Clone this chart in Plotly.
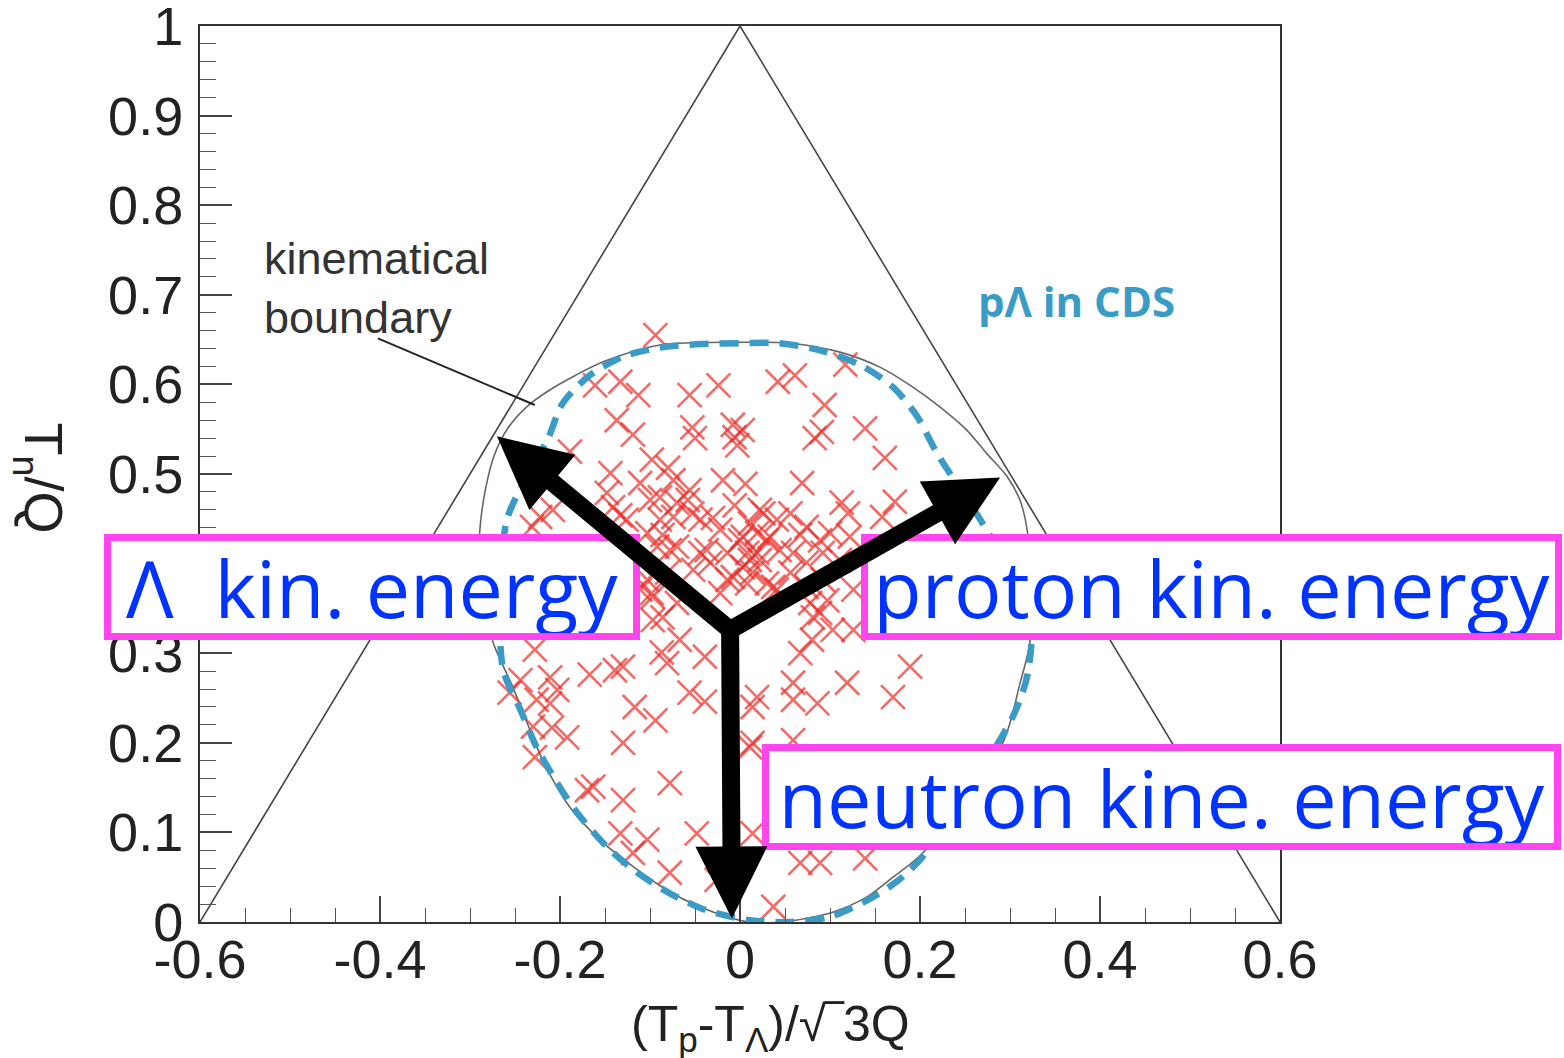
import plotly.graph_objects as go

# ---------------- data ----------------
tri_x = [-0.6, 0.0, 0.6]
tri_y = [0.0, 1.0, 0.0]

# kinematical boundary (thin grey curve)
boundary_x = [0.003, 0.056, 0.111, 0.156, 0.192, 0.222, 0.252, 0.274, 0.297, 0.311, 0.319, 0.324,
              0.322, 0.311, 0.292, 0.203, 0.170, 0.141, 0.103, 0.048, 0.011,
              -0.008, -0.045, -0.082, -0.119, -0.156, -0.189, -0.219, -0.236, -0.254, -0.274,
              -0.290, -0.289, -0.283, -0.273, -0.258, -0.237, -0.211, -0.183, -0.150, -0.089, 0.003]
boundary_y = [0.647, 0.646, 0.636, 0.619, 0.597, 0.575, 0.549, 0.523, 0.497, 0.471, 0.438, 0.371,
              0.311, 0.266, 0.200, 0.077, 0.050, 0.028, 0.011, 0.000, 0.000,
              0.004, 0.017, 0.036, 0.062, 0.092, 0.128, 0.180, 0.221, 0.266, 0.311,
              0.393, 0.438, 0.482, 0.521, 0.551, 0.575, 0.594, 0.610, 0.626, 0.644, 0.647]

# p-Lambda in CDS acceptance (blue dashed curve)
cds_x = [0.000, 0.044, 0.089, 0.133, 0.170, 0.197, 0.219, 0.267, 0.322, 0.320, 0.303,
         0.203, 0.174, 0.137, 0.100, 0.056, 0.011, -0.037, -0.078, -0.114, -0.148, -0.181,
         -0.203, -0.226, -0.244, -0.263, -0.267, -0.259, -0.237, -0.214, -0.197, -0.167,
         -0.130, -0.089, -0.044, 0.000]
cds_y = [0.646, 0.646, 0.638, 0.622, 0.597, 0.564, 0.523, 0.449, 0.348, 0.279, 0.229,
         0.073, 0.045, 0.022, 0.006, 0.000, 0.002, 0.013, 0.032, 0.055, 0.084, 0.122,
         0.155, 0.195, 0.237, 0.281, 0.359, 0.449, 0.497, 0.538, 0.579, 0.610,
         0.631, 0.641, 0.645, 0.646]

# events (red crosses)
events_x = [-0.094, -0.161, -0.133, -0.113, -0.056, -0.024, -0.137, -0.119, -0.053, -0.050,
            -0.008, -0.006, -0.003, -0.189, -0.144, -0.111, -0.098, -0.080, -0.074, -0.056,
            -0.019, 0.006, -0.148, -0.089, -0.070, -0.058, -0.089, -0.074, -0.053, -0.208,
            -0.222, -0.231, -0.141, -0.126, -0.103, -0.092, -0.078, -0.037, -0.014, 0.003,
            0.011, -0.052, -0.081, -0.103, -0.097, -0.070, -0.022, -0.014, 0.042, 0.061,
            0.117, 0.094, 0.091, 0.083, 0.139, 0.161, 0.069, 0.113, 0.120, 0.172,
            0.158, 0.003, 0.026, 0.041, 0.056, 0.011, 0.019, 0.033, 0.044, 0.059,
            0.074, 0.089, 0.092, 0.100, 0.122, 0.074, 0.111, 0.092, 0.008, 0.022,
            0.056, 0.074, 0.097, 0.037, -0.030, 0.022, -0.133, -0.086, -0.070, -0.044,
            0.000, 0.019, -0.033, 0.003, -0.098, -0.086, -0.097, -0.067, -0.087, -0.081,
            -0.039, -0.130, -0.056, -0.039, -0.117, -0.094, -0.008, 0.008, 0.014, 0.030,
            0.041, 0.078, 0.126, 0.081, 0.103, 0.126, 0.080, 0.067, 0.059, 0.119,
            0.019, 0.014, 0.059, 0.086, 0.170, -0.111, -0.228, -0.244, -0.211, -0.203,
            -0.226, -0.211, -0.256, -0.167, -0.139, -0.230, -0.209, -0.192, -0.228, -0.130,
            -0.170, -0.163, -0.130, -0.078, -0.133, -0.119, -0.103, -0.048, -0.078, -0.026,
            0.014, 0.011, 0.089, 0.189, 0.014, 0.059, 0.067, 0.089, 0.139, 0.037,
            0.030, 0.067, -0.006, -0.044, -0.022, -0.100]
events_y = [0.655, 0.599, 0.603, 0.588, 0.588, 0.599, 0.560, 0.544, 0.552, 0.540,
            0.555, 0.541, 0.532, 0.525, 0.501, 0.490, 0.516, 0.507, 0.493, 0.482,
            0.493, 0.489, 0.479, 0.474, 0.468, 0.471, 0.449, 0.452, 0.456, 0.460,
            0.452, 0.441, 0.463, 0.449, 0.434, 0.419, 0.415, 0.415, 0.412, 0.430,
            0.404, 0.393, 0.390, 0.382, 0.363, 0.356, 0.367, 0.382, 0.603, 0.610,
            0.622, 0.577, 0.547, 0.540, 0.551, 0.518, 0.490, 0.468, 0.456, 0.469,
            0.452, 0.549, 0.456, 0.449, 0.456, 0.445, 0.434, 0.430, 0.415, 0.412,
            0.441, 0.426, 0.412, 0.434, 0.430, 0.401, 0.404, 0.382, 0.412, 0.404,
            0.390, 0.374, 0.359, 0.374, 0.451, 0.460, 0.454, 0.432, 0.419, 0.412,
            0.426, 0.412, 0.401, 0.396, 0.367, 0.340, 0.337, 0.315, 0.301, 0.289,
            0.296, 0.285, 0.256, 0.246, 0.240, 0.225, 0.385, 0.378, 0.390, 0.378,
            0.371, 0.356, 0.371, 0.340, 0.326, 0.326, 0.315, 0.300, 0.267, 0.267,
            0.251, 0.240, 0.248, 0.244, 0.251, 0.371, 0.304, 0.270, 0.273, 0.259,
            0.248, 0.244, 0.256, 0.276, 0.281, 0.218, 0.217, 0.206, 0.184, 0.200,
            0.147, 0.151, 0.136, 0.155, 0.099, 0.077, 0.092, 0.099, 0.055, 0.047,
            0.099, 0.195, 0.345, 0.285, 0.200, 0.203, 0.066, 0.066, 0.071, 0.017,
            0.426, 0.432, 0.465, 0.449, 0.438, 0.471]

x_tickvals = [-0.6, -0.4, -0.2, 0.0, 0.2, 0.4, 0.6]
x_ticktext = ["-0.6", "-0.4", "-0.2", "0", "0.2", "0.4", "0.6"]
y_tickvals = [0.0, 0.1, 0.2, 0.3, 0.4, 0.5, 0.6, 0.7, 0.8, 0.9, 1.0]
y_ticktext = ["0", "0.1", "0.2", "0.3", "0.4", "0.5", "0.6", "0.7", "0.8", "0.9", "1"]

# arrows: common origin and the three tips (data units)
arrow_origin = (-0.011, 0.326)
arrow_tips = [(-0.270, 0.542), (0.289, 0.496), (-0.009, 0.004)]

# labels
label_texts = ["Λ\u00a0\u00a0kin. energy", "proton kin. energy", "neutron kine. energy"]
label_pos = [(-0.409, 0.374), (0.524, 0.374), (0.468, 0.139)]
label_size = [(522, 92), (687, 92), (785, 92)]

# ---------------- figure ----------------
TICKFONT = dict(family="Liberation Sans, Arial, sans-serif", size=54, color="#222")
fig = go.Figure()

fig.add_trace(go.Scatter(x=tri_x, y=tri_y, mode="lines",
                         line=dict(color="#444", width=1.6), hoverinfo="skip"))
fig.add_trace(go.Scatter(x=boundary_x, y=boundary_y, mode="lines",
                         line=dict(color="#666", width=1.6, shape="spline", smoothing=0.8),
                         hoverinfo="skip"))
fig.add_trace(go.Scatter(x=events_x, y=events_y, mode="markers",
                         marker=dict(symbol="x-thin", size=24, opacity=0.7,
                                     line=dict(color="rgb(236,45,40)", width=2.6),
                                     color="rgb(236,45,40)")))
fig.add_trace(go.Scatter(x=cds_x, y=cds_y, mode="lines",
                         line=dict(color="#3a9cc6", width=6.5, dash="19px,11px",
                                   shape="spline", smoothing=0.8),
                         hoverinfo="skip"))

annotations = []
# kinematical boundary text + leader line
annotations.append(dict(x=-0.531, y=0.708, xref="x", yref="y", xanchor="left", yanchor="middle",
                        text="kinematical<br>boundary", showarrow=False, align="left",
                        font=dict(family="Liberation Sans, Arial, sans-serif", size=45, color="#333")))
annotations.append(dict(x=-0.228, y=0.577, xref="x", yref="y", ax=-0.404, ay=0.652,
                        axref="x", ayref="y", text="", showarrow=True, arrowhead=0,
                        arrowwidth=2, arrowcolor="#222"))
annotations.append(dict(x=0.374, y=0.694, xref="x", yref="y", text="<b>pΛ in CDS</b>",
                        showarrow=False, xanchor="center", yanchor="middle",
                        font=dict(family="Open Sans, sans-serif", size=42, color="#3a9cc6")))
# axis titles
annotations.append(dict(x=-0.148, y=0.496, xref="paper", yref="paper", textangle=90,
                        xanchor="center", yanchor="middle",
                        text="T<sub>n</sub>/Q", showarrow=False,
                        font=dict(family="Liberation Sans, Arial, sans-serif", size=54, color="#222")))
annotations.append(dict(x=0.528, y=-0.118, xref="paper", yref="paper",
                        xanchor="center", yanchor="middle",
                        text="(T<sub>p</sub>-T<sub>Λ</sub>)/√‾3Q", showarrow=False,
                        font=dict(family="Liberation Sans, Arial, sans-serif", size=50, color="#222")))
# boxed labels
for txt, (lx, ly), (w, h) in zip(label_texts, label_pos, label_size):
    annotations.append(dict(x=lx, y=ly, xref="x", yref="y", text=txt, showarrow=False,
                            width=w, height=h, align="center", valign="middle",
                            xanchor="center", yanchor="middle",
                            bgcolor="white", bordercolor="#ff45ee", borderwidth=7, borderpad=0,
                            font=dict(family="Open Sans, sans-serif", size=79, color="#0033ff")))
# arrows
for tx, ty in arrow_tips:
    annotations.append(dict(x=tx, y=ty, xref="x", yref="y", ax=arrow_origin[0], ay=arrow_origin[1],
                            axref="x", ayref="y", text="", showarrow=True, arrowhead=2,
                            arrowsize=0.8, arrowwidth=18, arrowcolor="black", standoff=0))

fig.update_layout(
    width=1564, height=1058,
    margin=dict(l=200, r=284, t=26, b=136, autoexpand=False),
    paper_bgcolor="white", plot_bgcolor="white",
    showlegend=False,
    annotations=annotations,
    shapes=[dict(type="circle", xref="x", yref="y", xsizemode="pixel", ysizemode="pixel",
                 xanchor=arrow_origin[0], yanchor=arrow_origin[1],
                 x0=-9, x1=9, y0=-9, y1=9, fillcolor="black", line=dict(width=0), layer="above")],
    xaxis=dict(range=[-0.6, 0.6], showgrid=False, zeroline=False, automargin=False,
               showline=True, linecolor="#333", linewidth=2, mirror=True,
               ticks="inside", ticklen=26, tickwidth=1.6, tickcolor="#444",
               tickvals=x_tickvals, ticktext=x_ticktext, tickfont=TICKFONT,
               ticklabelstandoff=-11, ticklabeloverflow="allow",
               minor=dict(dtick=0.05, ticks="inside", ticklen=14, tickwidth=1.4,
                          tickcolor="#555", showgrid=False)),
    yaxis=dict(range=[0, 1], showgrid=False, zeroline=False, automargin=False,
               showline=True, linecolor="#333", linewidth=2, mirror=True,
               ticks="inside", ticklen=32, tickwidth=1.6, tickcolor="#444",
               tickvals=y_tickvals, ticktext=y_ticktext, tickfont=TICKFONT,
               ticklabelstandoff=4, ticklabeloverflow="allow",
               minor=dict(dtick=0.02, ticks="inside", ticklen=16, tickwidth=1.4,
                          tickcolor="#555", showgrid=False)),
)

fig.write_html("out.html")
